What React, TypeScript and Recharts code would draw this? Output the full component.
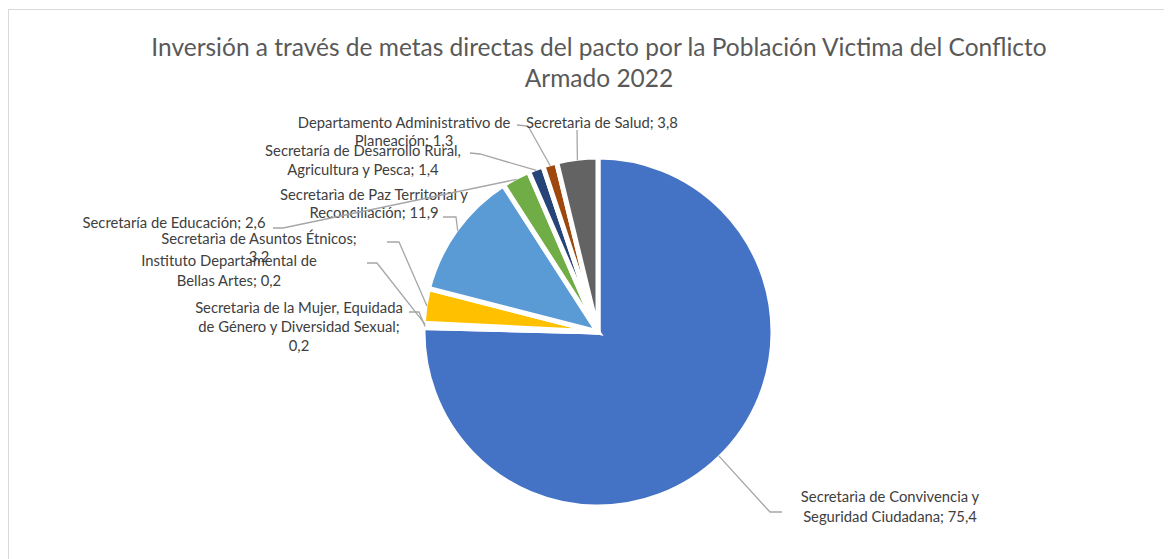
import React from "react";
import { PieChart, Pie, Cell } from "recharts";

const title1 = "Inversión a través de metas directas del pacto por la Población Victima del Conflicto";
const title2 = "Armado 2022";

const categories = [
  "Secretarìa de Convivencia y Seguridad Ciudadana",
  "Secretarìa de la Mujer, Equidada de Género y Diversidad Sexual",
  "Instituto Departamental de Bellas Artes",
  "Secretarìa de Asuntos Étnicos",
  "Secretarìa de Paz Territorial y Reconciliación",
  "Secretaría de Educación",
  "Secretaría de Desarrollo Rural, Agricultura y Pesca",
  "Departamento Administrativo de Planeación",
  "Secretarìa de Salud",
];

const values = [75.4, 0.2, 0.2, 3.2, 11.9, 2.6, 1.4, 1.3, 3.8];

const colors = [
  "#4472C4",
  "#ED7D31",
  "#A5A5A5",
  "#FFC000",
  "#5B9BD5",
  "#70AD47",
  "#264478",
  "#9E480E",
  "#636363",
];

// label layout: words per line, text center x offset, line center y offsets, leader elbow points (relative to pie center)
const wordBreaks: number[][] = [[4], [5, 5], [3], [4], [5], [], [4], [3], []];
const labelX = [292, -299, -369, -339, -224, -424, -235, -194, 4];
const labelY: number[][] = [
  [164, 184],
  [-25, -6, 13],
  [-72, -52],
  [-94, -76],
  [-138, -120],
  [-110],
  [-182, -163],
  [-210, -192],
  [-210],
];
const leaderPts: number[][][] = [
  [[184, 180], [172, 180]],
  [[-189, -20], [-179, -20]],
  [[-231, -69], [-221, -69]],
  [[-211, -90], [-199, -90]],
  [[-155, -115], [-142, -115]],
  [[-325, -104], [-315, -104]],
  [[-128, -179], [-118, -178]],
  [[-81, -207], [-70, -206]],
  [[-21, -202]],
];

const data = categories.map((name, i) => ({ name, value: values[i] }));

const fmt = (v: number) => v.toFixed(1).replace(".", ",");

const splitLines = (text: string, breaks: number[]) => {
  const words = text.split(" ");
  const lines: string[] = [];
  let pos = 0;
  for (const b of breaks) {
    lines.push(words.slice(pos, pos + b).join(" "));
    pos += b;
  }
  lines.push(words.slice(pos).join(" "));
  return lines;
};

const RADIAN = Math.PI / 180;

const renderLabel = (props: any) => {
  const { cx, cy, midAngle, outerRadius, index } = props;
  const r = outerRadius - 2;
  const ex = cx + r * Math.cos(-midAngle * RADIAN);
  const ey = cy + r * Math.sin(-midAngle * RADIAN);
  const pts = leaderPts[index].map((p) => `${cx + p[0]},${cy + p[1]}`);
  pts.push(`${ex},${ey}`);
  const text = `${categories[index]}; ${fmt(values[index])}`;
  const lines = splitLines(text, wordBreaks[index]);
  return (
    <g key={`lbl-${index}`}>
      <polyline points={pts.join(" ")} fill="none" stroke="#A6A6A6" strokeWidth={1.3} />
      <text
        textAnchor="middle"
        fill="#404040"
        fontSize={14.8}
        fontFamily="Lato, 'Open Sans', sans-serif"
      >
        {lines.map((ln, j) => (
          <tspan key={j} x={cx + labelX[index]} y={cy + labelY[index][j]} dominantBaseline="central">
            {ln}
          </tspan>
        ))}
      </text>
    </g>
  );
};

export default function App() {
  return (
    <div style={{ position: "relative", width: 1164, height: 551, overflow: "hidden", background: "#fff" }}>
      <div
        style={{
          position: "absolute",
          left: 0,
          top: 1,
          width: 1200,
          height: 600,
          borderLeft: "1.5px solid #D9D9D9",
          borderTop: "1.5px solid #D9D9D9",
        }}
      />
      <div
        style={{
          position: "absolute",
          left: 0,
          top: 23,
          width: 1182,
          textAlign: "center",
          fontFamily: "Lato, 'Open Sans', sans-serif",
          fontSize: 24.5,
          color: "#595959",
          lineHeight: "31px",
        }}
      >
        <div>{title1}</div>
        <div>{title2}</div>
      </div>
      <div style={{ position: "absolute", left: 0, top: 0 }}>
        <PieChart width={1164} height={551} margin={{ top: 0, right: 0, bottom: 0, left: 0 }}>
          <Pie
            data={data}
            dataKey="value"
            nameKey="name"
            cx={590}
            cy={324}
            outerRadius={175}
            startAngle={90}
            endAngle={-270}
            stroke="#FFFFFF"
            strokeWidth={5}
            label={renderLabel}
            labelLine={false}
            isAnimationActive={false}
          >
            {data.map((d, i) => (
              <Cell key={d.name} fill={colors[i]} />
            ))}
          </Pie>
        </PieChart>
      </div>
    </div>
  );
}
